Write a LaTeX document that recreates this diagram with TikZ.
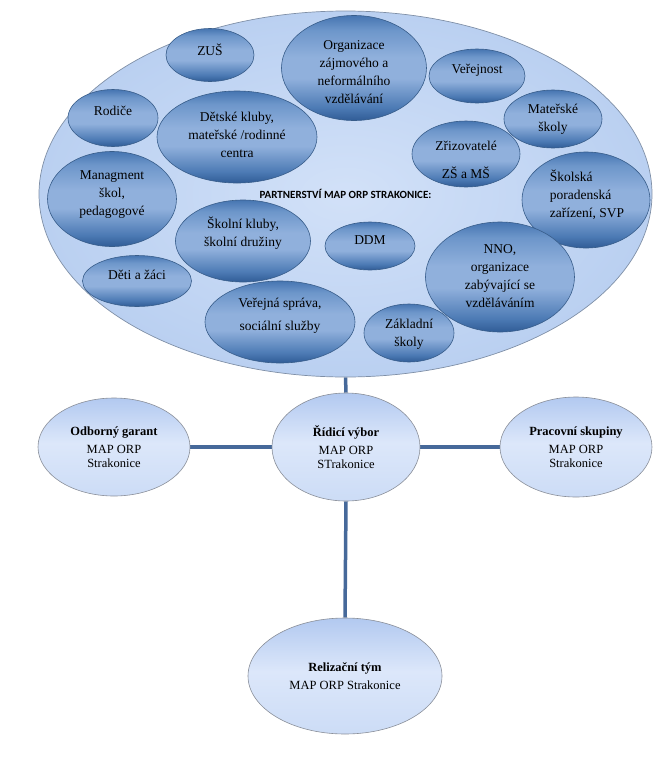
\documentclass[tikz,border=0pt]{standalone}
\usepackage{fontspec}
\setmainfont{Liberation Serif}
\newfontfamily\tms{Liberation Serif}
\newfontfamily\calibri{Carlito}
\usetikzlibrary{shapes.geometric}
\pgfdeclarelayer{background}
\pgfsetlayers{background,main}

\definecolor{btop}{HTML}{4675B1}
\definecolor{bmid}{HTML}{6D96CA}
\definecolor{blight}{HTML}{90B0DC}
\definecolor{bdktwo}{HTML}{4C7AB4}
\definecolor{bdark}{HTML}{305C96}
\definecolor{bborder}{HTML}{385D8A}
\definecolor{ltop}{HTML}{B2C9F0}
\definecolor{lmid}{HTML}{DCE7FA}
\definecolor{lbot}{HTML}{CCDCF6}
\definecolor{lborder}{HTML}{8A8F99}
\definecolor{bigin}{HTML}{D2E1F8}
\definecolor{bigout}{HTML}{BAD0F1}
\definecolor{bigborder}{HTML}{7F8FA6}
\definecolor{linkc}{HTML}{46699A}

\pgfdeclareverticalshading{bubsh}{100bp}{color(0bp)=(bdark); color(25bp)=(bdark); color(31bp)=(bdktwo); color(45bp)=(blight); color(55bp)=(blight); color(68bp)=(bmid); color(75bp)=(btop); color(100bp)=(btop)}
\pgfdeclareverticalshading{lowsh}{100bp}{color(0bp)=(lbot); color(25bp)=(lbot); color(52bp)=(lmid); color(75bp)=(ltop); color(100bp)=(ltop)}

\tikzset{
  bubble/.style={ellipse, shade, shading=bubsh, draw=bborder, line width=0.6pt, inner sep=0pt},
  btext/.style={align=center, font=\tms\fontsize{13.5}{18}\selectfont, text=black, inner sep=0pt},
  lowell/.style={ellipse, shade, shading=lowsh, draw=lborder, line width=0.6pt, inner sep=0pt,
    align=center, font=\tms\fontsize{12.5}{13.5}\selectfont, text=black},
  bigell/.style={ellipse, shade, inner color=bigin, outer color=bigout, draw=bigborder, line width=0.7pt,
    inner sep=0pt, font=\calibri\bfseries\fontsize{11}{13}\selectfont},
  link/.style={draw=linkc, line width=3.5pt}
}

% name, cx, cy, width, height, text y, text
\newcommand\bub[7]{%
  \node[bubble, minimum width=#4pt, minimum height=#5pt] (#1) at (#2,#3) {};
  \node[btext] (#1t) at (#2,#6) {#7};}

\begin{document}
\begin{tikzpicture}[x=1pt, y=-1pt]
\useasboundingbox (0,0) rectangle (664,761);

\node[bigell, minimum width=613pt, minimum height=366pt] (part) at (345.5,194) {PARTNERSTVÍ MAP ORP STRAKONICE:};

\bub{zus}{210}{55}{88}{53}{50}{ZUŠ}
\bub{org}{354}{68}{145}{105}{72}{Organizace\\zájmového a\\neformálního\\vzdělávání}
\bub{ver}{477}{76}{96}{54}{70}{Veřejnost}
\bub{mat}{553}{119}{98}{58}{119}{Mateřské\\školy}
\bub{zriz}{466}{154}{108}{66}{160}{Zřizovatelé\\[10pt]ZŠ a MŠ}
\node[bubble, minimum width=128pt, minimum height=96pt] (skp) at (586,200) {};
\node[btext, align=left] (skpt) at (587,195) {Školská\\poradenská\\zařízení, SVP};
\bub{rod}{113}{118}{90}{57}{111}{Rodiče}
\bub{det}{237}{137}{160}{92}{135}{Dětské kluby,\\mateřské /rodinné\\centra}
\bub{man}{112}{199}{129}{95}{195}{Managment\\škol,\\pedagogové}
\bub{skk}{243}{241}{135}{82}{233}{Školní kluby,\\školní družiny}
\bub{deti}{137}{281}{109}{51}{275}{Děti a žáci}
\bub{vsp}{280}{322}{150}{82}{316}{Veřejná správa,\\[5pt]sociální služby}
\bub{ddm}{370}{246}{90}{48}{240}{DDM}
\bub{nno}{500}{277}{149}{110}{276}{NNO,\\organizace\\zabývající se\\vzděláváním}
\bub{zak}{409}{333}{90}{58}{334}{Základní\\školy}

\node[lowell, minimum width=152pt, minimum height=98pt] (odb) at (114,447)
  {\textbf{Odborný garant}\\[4.5pt]MAP ORP\\Strakonice};
\node[lowell, minimum width=148pt, minimum height=108pt] (rid) at (346,447)
  {\textbf{Řídicí výbor}\\[4.5pt]MAP ORP\\STrakonice};
\node[lowell, minimum width=152pt, minimum height=100pt] (pra) at (576,447)
  {\textbf{Pracovní skupiny}\\[4.5pt]MAP ORP\\Strakonice};
\node[lowell, minimum width=194pt, minimum height=116pt] (rel) at (345,676)
  {\textbf{Relizační tým}\\[4.5pt]MAP ORP Strakonice};

\begin{pgfonlayer}{background}
\draw[link] (part.south) -- (rid.north);
\draw[link] (odb.east) -- (rid.west);
\draw[link] (rid.east) -- (pra.west);
\draw[link] (rid.south) -- (rel.north);
\end{pgfonlayer}
\end{tikzpicture}
\end{document}
